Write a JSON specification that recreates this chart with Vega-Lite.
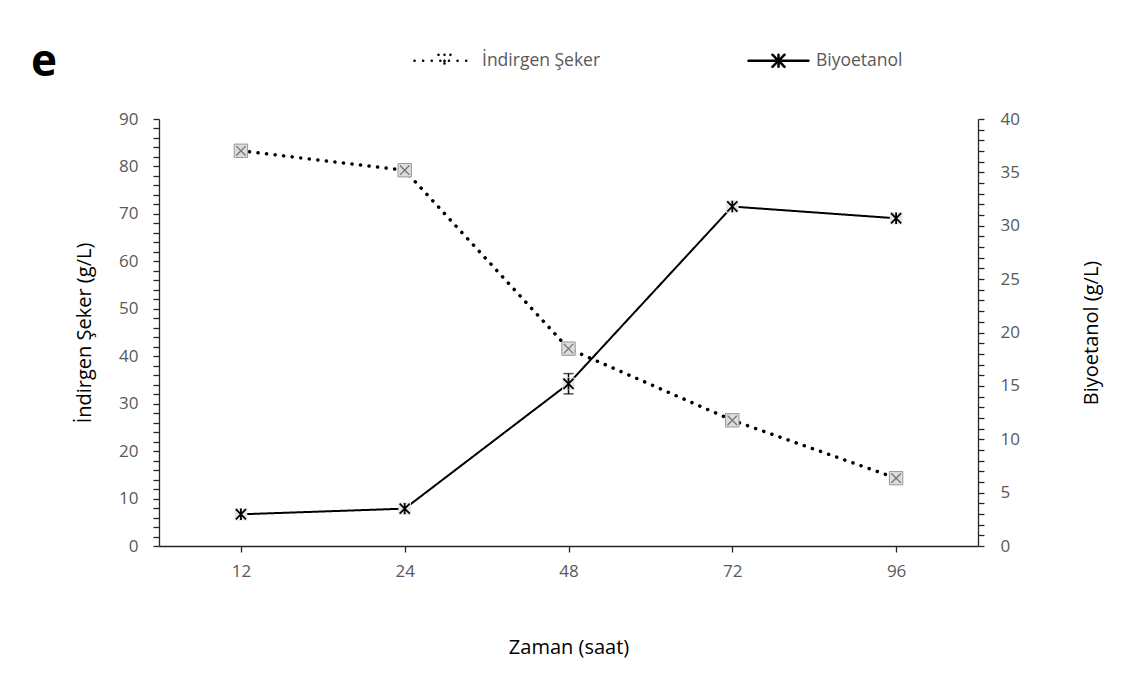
{
  "$schema": "https://vega.github.io/schema/vega-lite/v6.json",
  "width": 819,
  "height": 427,
  "autosize": "none",
  "padding": {"left": 159, "top": 119, "right": 161, "bottom": 144},
  "background": "white",
  "config": {
    "view": {"stroke": null},
    "font": "Open Sans",
    "axis": {"grid": false, "domainColor": "#262626", "tickColor": "#262626", "labelColor": "#595959", "labelFont": "Open Sans", "titleFont": "Open Sans", "titleColor": "#000000", "titleFontWeight": "normal", "labelFontSize": 17, "titleFontSize": 20, "tickSize": 6, "domainWidth": 1.3, "tickWidth": 1.3, "labelOverlap": false}
  },
  "title": {"text": "e", "anchor": "start", "frame": "group", "dx": -128, "dy": 91, "offset": 0, "baseline": "alphabetic", "fontSize": 44, "fontWeight": "bold", "font": "Open Sans", "color": "#000000"},
  "data": {"values": [
    {"t": "12", "s": "İndirgen Şeker", "v": 83.3, "lo": 82.9, "hi": 83.7},
    {"t": "24", "s": "İndirgen Şeker", "v": 79.2, "lo": 78.8, "hi": 79.6},
    {"t": "48", "s": "İndirgen Şeker", "v": 41.6, "lo": 40.5, "hi": 42.7},
    {"t": "72", "s": "İndirgen Şeker", "v": 26.5, "lo": 26.2, "hi": 26.8},
    {"t": "96", "s": "İndirgen Şeker", "v": 14.3, "lo": 14.0, "hi": 14.6},
    {"t": "12", "s": "Biyoetanol", "v": 2.97, "lo": 2.85, "hi": 3.09},
    {"t": "24", "s": "Biyoetanol", "v": 3.5, "lo": 3.38, "hi": 3.62},
    {"t": "48", "s": "Biyoetanol", "v": 15.2, "lo": 14.25, "hi": 16.15},
    {"t": "72", "s": "Biyoetanol", "v": 31.8, "lo": 31.65, "hi": 31.95},
    {"t": "96", "s": "Biyoetanol", "v": 30.7, "lo": 30.25, "hi": 31.15}
  ]},
  "encoding": {
    "x": {"field": "t", "type": "ordinal", "sort": ["12", "24", "48", "72", "96"],
      "scale": {"type": "point", "padding": 0.5},
      "axis": {"title": "Zaman (saat)", "labelAngle": 0, "labelPadding": 11, "titlePadding": 58}}
  },
  "layer": [
    {
      "transform": [{"filter": "datum.s === 'İndirgen Şeker'"}],
      "layer": [
        {
          "mark": {"type": "line", "color": "#000000", "strokeWidth": 3.5, "strokeCap": "round"},
          "encoding": {
            "y": {"field": "v", "type": "quantitative", "scale": {"domain": [0, 90]},
              "axis": {"title": "İndirgen Şeker (g/L)", "orient": "left", "tickCount": 200, "labelOverlap": false, "format": "d",
                "values": [0,2,4,6,8,10,12,14,16,18,20,22,24,26,28,30,32,34,36,38,40,42,44,46,48,50,52,54,56,58,60,62,64,66,68,70,72,74,76,78,80,82,84,86,88,90],
                "labelExpr": "datum.value % 10 === 0 ? datum.label : ''", "labelPadding": 15, "titlePadding": 24}},
            "strokeDash": {"field": "s", "type": "nominal",
              "scale": {"domain": ["İndirgen Şeker", "Biyoetanol"], "range": [[0.1, 8.5], [1, 0]]},
              "legend": {"title": null, "orient": "none", "direction": "horizontal", "legendX": 254, "legendY": -90,
                "padding": 0, "symbolType": "M-1,0L1,0M-0.2,-0.2L0.2,0.2M0.2,-0.2L-0.2,0.2M0,-0.2L0,0.2",
                "symbolSize": 3600, "symbolStrokeWidth": 2.5, "symbolStrokeColor": "#000000", "symbolFillColor": "transparent",
                "labelFontSize": 17.5, "labelColor": "#595959", "labelFont": "Open Sans", "labelOffset": 6, "columnPadding": 142,
                "encode": {"symbols": {"update": {"strokeCap": {"value": "round"}}}}}}
          }
        },
        {
          "mark": {"type": "rule", "color": "#000000", "strokeWidth": 1.5},
          "encoding": {"y": {"field": "lo", "type": "quantitative"}, "y2": {"field": "hi"}}
        },
        {
          "mark": {"type": "tick", "color": "#000000", "thickness": 1.5, "size": 10},
          "encoding": {"y": {"field": "lo", "type": "quantitative"}}
        },
        {
          "mark": {"type": "tick", "color": "#000000", "thickness": 1.5, "size": 10},
          "encoding": {"y": {"field": "hi", "type": "quantitative"}}
        },
        {
          "mark": {"type": "point", "shape": "square", "filled": true, "fill": "#dcdcdc", "stroke": "#9a9a9a", "strokeWidth": 1, "size": 180, "opacity": 1},
          "encoding": {"y": {"field": "v", "type": "quantitative"}}
        },
        {
          "mark": {"type": "point", "shape": "M-0.7,-0.7L0.7,0.7M0.7,-0.7L-0.7,0.7", "filled": false, "stroke": "#6e6e6e", "strokeWidth": 1.2, "size": 180, "opacity": 1},
          "encoding": {"y": {"field": "v", "type": "quantitative"}}
        }
      ]
    },
    {
      "transform": [{"filter": "datum.s === 'Biyoetanol'"}],
      "layer": [
        {
          "mark": {"type": "line", "color": "#000000", "strokeWidth": 2},
          "encoding": {
            "y": {"field": "v", "type": "quantitative", "scale": {"domain": [0, 40]},
              "axis": {"title": "Biyoetanol (g/L)", "orient": "right", "titleAngle": 270, "tickCount": 200, "labelOverlap": false, "format": "d",
                "values": [0,1,2,3,4,5,6,7,8,9,10,11,12,13,14,15,16,17,18,19,20,21,22,23,24,25,26,27,28,29,30,31,32,33,34,35,36,37,38,39,40],
                "labelExpr": "datum.value % 5 === 0 ? datum.label : ''", "labelPadding": 16, "titlePadding": 82}},
            "strokeDash": {"field": "s", "type": "nominal"}
          }
        },
        {
          "mark": {"type": "rule", "color": "#000000", "strokeWidth": 1.5},
          "encoding": {"y": {"field": "lo", "type": "quantitative"}, "y2": {"field": "hi"}}
        },
        {
          "mark": {"type": "tick", "color": "#000000", "thickness": 1.5, "size": 10},
          "encoding": {"y": {"field": "lo", "type": "quantitative"}}
        },
        {
          "mark": {"type": "tick", "color": "#000000", "thickness": 1.5, "size": 10},
          "encoding": {"y": {"field": "hi", "type": "quantitative"}}
        },
        {
          "mark": {"type": "point", "shape": "square", "filled": true, "fill": "#e6e6e6", "strokeWidth": 0, "size": 160, "opacity": 1},
          "encoding": {"y": {"field": "v", "type": "quantitative"}}
        },
        {
          "mark": {"type": "point", "shape": "M-0.8,-0.8L0.8,0.8M0.8,-0.8L-0.8,0.8M0,-0.9L0,0.9", "filled": false, "stroke": "#000000", "strokeWidth": 1.8, "size": 160, "opacity": 1},
          "encoding": {"y": {"field": "v", "type": "quantitative"}}
        }
      ]
    }
  ],
  "resolve": {"scale": {"y": "independent"}, "axis": {"y": "independent"}}
}
